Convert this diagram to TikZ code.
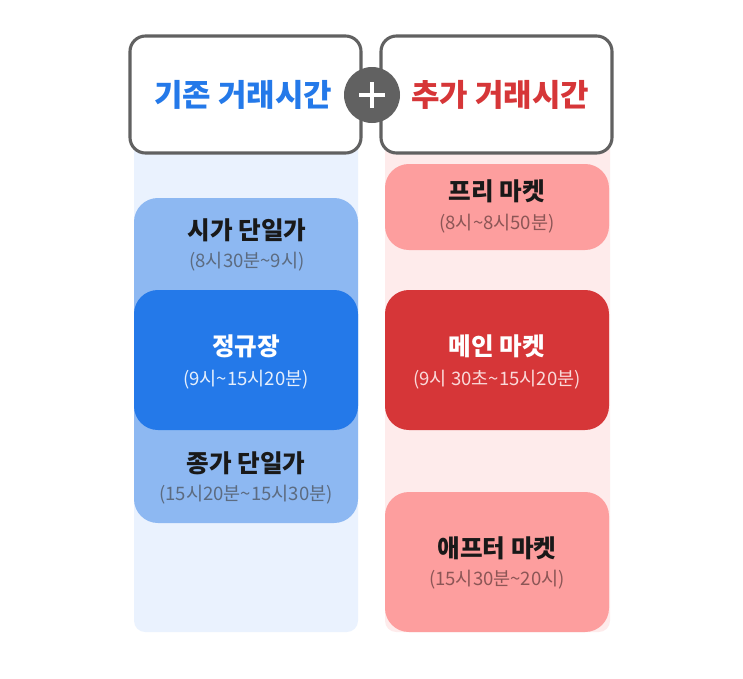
\documentclass[tikz,border=0pt]{standalone}
\usepackage{fontspec}
\usepackage{xcolor}
\setmainfont{Noto Sans CJK KR}
\definecolor{MarketBlue}{HTML}{2479E9}
\definecolor{MarketBlueLight}{HTML}{8DB8F2}
\definecolor{MarketBlueBg}{HTML}{EAF2FE}
\definecolor{MarketRed}{HTML}{D63638}
\definecolor{MarketRedLight}{HTML}{FD9E9E}
\definecolor{MarketRedBg}{HTML}{FEEBEB}
\definecolor{MarketGray}{HTML}{616161}
\definecolor{SubBlue}{HTML}{5C6B80}
\definecolor{SubRed}{HTML}{8C5656}
\tikzset{
  title/.style={font=\fontsize{17.5}{20}\selectfont\bfseries, text=black!90},
  subtitle/.style={font=\fontsize{13.2}{16}\selectfont},
  header/.style={font=\fontsize{22}{26}\selectfont\bfseries},
}

\begin{document}
\begin{tikzpicture}[x=0.025cm, y=-0.025cm]
  \useasboundingbox (0,0) rectangle (743,678);
  \fill[white] (0,0) rectangle (743,678);

  % background columns
  \fill[MarketBlueBg, rounded corners=8pt] (134,130) rectangle (358,632);
  \fill[MarketRedBg, rounded corners=8pt] (385,130) rectangle (610,632);

  % left column
  \fill[MarketBlueLight, rounded corners=17pt] (134,198) rectangle (358,523);
  \fill[MarketBlue, rounded corners=17pt] (134,290) rectangle (358,430);
  \node[title] (open) at (247,230) {시가 단일가};
  \node[subtitle, text=SubBlue] (openTime) at (247,262) {(8시30분\textasciitilde9시)};
  \node[title, text=white] (regular) at (246,346) {정규장};
  \node[subtitle, text=white!88!MarketBlue] (regularTime) at (246,380) {(9시\textasciitilde15시20분)};
  \node[title] (close) at (246,463) {종가 단일가};
  \node[subtitle, text=SubBlue] (closeTime) at (246,495) {(15시20분\textasciitilde15시30분)};

  % right column
  \fill[MarketRedLight, rounded corners=17pt] (385,164) rectangle (609,250);
  \fill[MarketRed, rounded corners=17pt] (385,290) rectangle (609,430);
  \fill[MarketRedLight, rounded corners=17pt] (385,492) rectangle (609,632);
  \node[title] (pre) at (497,191) {프리 마켓};
  \node[subtitle, text=SubRed] (preTime) at (497,224) {(8시\textasciitilde8시50분)};
  \node[title, text=white] (main) at (497,346) {메인 마켓};
  \node[subtitle, text=MarketRedBg!90!MarketRed] (mainTime) at (497,380) {(9시 30초\textasciitilde15시20분)};
  \node[title] (after) at (497,548) {애프터 마켓};
  \node[subtitle, text=SubRed] (afterTime) at (497,580) {(15시30분\textasciitilde20시)};

  % headers
  \draw[MarketGray, line width=2.2pt, fill=white, rounded corners=11pt] (130,36) rectangle (361,153);
  \draw[MarketGray, line width=2.2pt, fill=white, rounded corners=11pt] (381,36) rectangle (612,153);
  \node[header, text=MarketBlue] (base) at (243,95) {기존 거래시간};
  \node[header, text=MarketRed] (extra) at (500,95) {추가 거래시간};
  \fill[MarketGray] (372,95) circle (28);
  \draw[white, line width=3pt] (359,95) -- (385,95) (372,82) -- (372,108);
\end{tikzpicture}
\end{document}
